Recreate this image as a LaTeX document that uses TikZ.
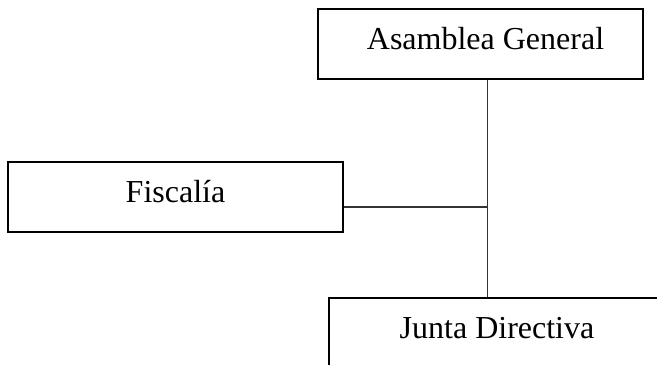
\documentclass[tikz,border=0pt]{standalone}
\usepackage{fontspec}
\setmainfont{Liberation Serif}
\usepackage{tikz}
\usetikzlibrary{positioning}

\begin{document}
\begin{tikzpicture}[x=0.5pt,y=-0.5pt,
    orgbox/.style={draw, line width=1pt, minimum height=35pt, inner sep=0pt,
        text height=11pt, text depth=6pt, font=\fontsize{16}{19}\selectfont},
    link/.style={draw=black!80, line width=0.75pt}]
    \useasboundingbox (0,0) rectangle (657,364);

    % Boxes
    \node[orgbox, minimum width=162.5pt] (asamblea) at (480.5,44) {\hspace{5pt}Asamblea General};
    \node[orgbox, minimum width=167.5pt] (fiscalia) at (175.5,197) {Fiscalía};
    \node[orgbox, minimum width=168pt] (junta) at (497,333) {Junta Directiva};

    % Lines
    \coordinate (mid) at (487.5,207);
    \draw[link] (asamblea.south -| mid) -- (junta.north -| mid);
    \draw[link] (fiscalia.east |- mid) -- (mid);
\end{tikzpicture}
\end{document}
